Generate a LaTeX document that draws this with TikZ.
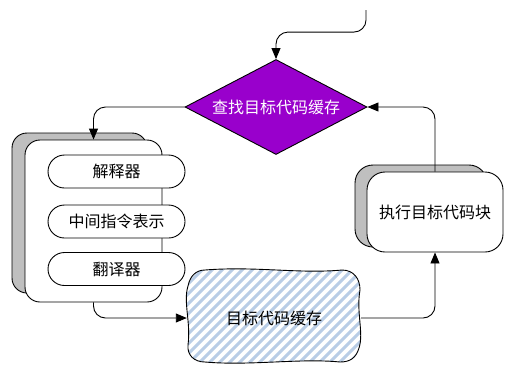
\documentclass[tikz,border=0pt]{standalone}
\usepackage{fontspec}
\setmainfont{Noto Sans CJK SC}
\usetikzlibrary{shapes.geometric,arrows.meta,calc}
\definecolor{dpurple}{RGB}{153,0,204}
\definecolor{shgray}{RGB}{191,191,191}
\definecolor{stripeblue}{RGB}{185,205,230}
\begin{document}
\begin{tikzpicture}[x=1pt,y=-1pt, font=\fontsize{16}{18}\selectfont,
  ln/.style={line width=0.9pt},
  arr/.style={ln, -{Triangle[length=11pt,width=9pt]}, rounded corners=12pt},
  shadowbox/.style={draw, ln, fill=shgray, rounded corners=15pt, inner sep=0pt},
  frontbox/.style={draw, ln, fill=white, rounded corners=15pt, inner sep=0pt},
  pill/.style={draw, ln, fill=white, rounded corners=16.5pt, minimum width=137pt, minimum height=33pt, inner sep=0pt},
  decision/.style={diamond, draw, ln, fill=dpurple, text=white, aspect=1.9, minimum width=182pt, minimum height=95pt, inner sep=0pt}
]
\useasboundingbox (0,0) rectangle (505,365);

% decision
\node[decision] (d) at (276,107) {查找目标代码缓存};

% left group
\node[shadowbox, minimum width=135pt, minimum height=160pt] (lbs) at (79.5,213) {};
\node[frontbox, minimum width=137pt, minimum height=162pt] (lb) at (93.5,221) {};
\node[pill] (p1) at (116.5,171.5) {解释器};
\node[pill] (p2) at (116.5,221.5) {中间指令表示};
\node[pill] (p3) at (116.5,269) {翻译器};

% exec box
\node[shadowbox, rounded corners=18pt, minimum width=132pt, minimum height=82pt] (exs) at (421,206) {};
\node[frontbox, rounded corners=18pt, minimum width=136pt, minimum height=80pt] (ex) at (435,212) {执行目标代码块};

% cloud-like cache
\def\cloudpath{(205,270) .. controls (255,266) and (300,274) .. (342,270)
  .. controls (354,270) and (360,279) .. (360,290)
  .. controls (356,312) and (364,333) .. (359,348)
  .. controls (356,358) and (350,362) .. (340,362)
  .. controls (300,358) and (250,366) .. (205,362)
  .. controls (194,362) and (187,355) .. (188,345)
  .. controls (191,322) and (183,302) .. (188,286)
  .. controls (190,276) and (196,270) .. (205,270) -- cycle}
\fill[white] \cloudpath;
\begin{scope}
  \clip \cloudpath;
  \foreach \i in {70,80,...,370}
    \draw[stripeblue, line width=3pt] (\i,372) -- ++(115,-115);
\end{scope}
\draw[ln] \cloudpath;
\node[minimum width=174pt, minimum height=92pt, inner sep=0pt] (cloud) at (274,318) {目标代码缓存};

% connectors
\coordinate (in) at (366,10);
\draw[arr] (in) |- ($(d.north)+(0,-27)$) -- (d.north);
\draw[arr] (d.west) -| (lb.north);
\draw[arr] (lb.south) |- (cloud.west);
\draw[arr] (cloud.east) -| (ex.south);
\draw[arr] (ex.north) |- (d.east);
\end{tikzpicture}
\end{document}
